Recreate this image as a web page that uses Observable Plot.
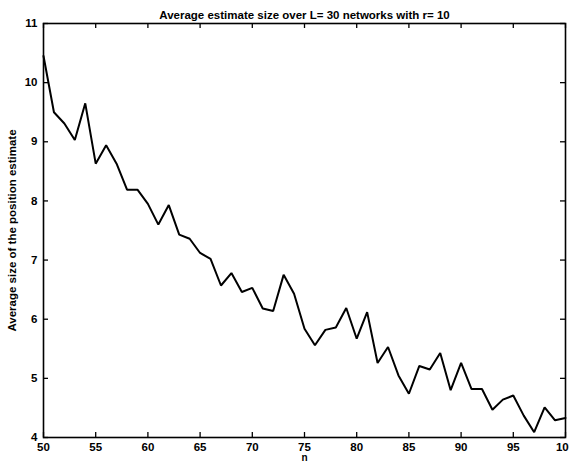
<!DOCTYPE html>
<html>
<head>
<meta charset="utf-8">
<script src="https://cdn.jsdelivr.net/npm/d3@7"></script>
<script src="https://cdn.jsdelivr.net/npm/@observablehq/plot@0.6"></script>
<style>
  html, body { margin: 0; padding: 0; background: #fff; }
  svg { display: block; }
</style>
</head>
<body>
<div id="chart"></div>
<script>
const titleText = "Average estimate size over L= 30 networks with r= 10";
const xLabel = "n";
const yLabel = "Average size of the position estimate";

const nValues = d3.range(50, 101);
const sizeValues = [
  10.45, 9.50, 9.31, 9.03, 9.65, 8.63, 8.94, 8.63, 8.19, 8.19,
  7.95, 7.60, 7.93, 7.43, 7.36, 7.12, 7.02, 6.57, 6.78, 6.46,
  6.53, 6.18, 6.14, 6.75, 6.43, 5.84, 5.56, 5.82, 5.86, 6.19,
  5.67, 6.12, 5.26, 5.53, 5.05, 4.74, 5.21, 5.15, 5.43, 4.80,
  5.26, 4.82, 4.82, 4.47, 4.64, 4.71, 4.37, 4.09, 4.51, 4.29,
  4.33
];
const xTicks = [50, 55, 60, 65, 70, 75, 80, 85, 90, 95, 100];
const yTicks = [4, 5, 6, 7, 8, 9, 10, 11];

const data = nValues.map((n, i) => ({n, v: sizeValues[i]}));

const W = 569, H = 466;
const mL = 43, mR = 4, mT = 23, mB = 29;
const pw = W - mL - mR, ph = H - mT - mB;
const tl = 5;

const chart = Plot.plot({
  width: W,
  height: H,
  marginLeft: mL,
  marginRight: mR,
  marginTop: mT,
  marginBottom: mB,
  style: {fontFamily: "'Liberation Sans', Arial, sans-serif", background: "#fff", color: "#000"},
  x: {domain: [50, 100]},
  y: {domain: [4, 11]},
  marks: [
    Plot.axisX(xTicks, {tickSize: 0, tickPadding: 5, label: null, fontSize: 11.5, fontWeight: "bold", tickFormat: d => String(d)}),
    Plot.axisY(yTicks, {tickSize: 0, tickPadding: 6, label: null, fontSize: 11.5, fontWeight: "bold", tickFormat: d => String(d)}),
    Plot.tickX(xTicks, {x: d => d, insetTop: ph - tl, stroke: "#000", strokeWidth: 1.3}),
    Plot.tickX(xTicks, {x: d => d, insetBottom: ph - tl, stroke: "#000", strokeWidth: 1.3}),
    Plot.tickY(yTicks, {y: d => d, insetRight: pw - tl, stroke: "#000", strokeWidth: 1.3}),
    Plot.tickY(yTicks, {y: d => d, insetLeft: pw - tl, stroke: "#000", strokeWidth: 1.3}),
    Plot.frame({stroke: "#000", strokeWidth: 1.6}),
    Plot.line(data, {x: "n", y: "v", stroke: "#000", strokeWidth: 2, strokeLinejoin: "miter"}),
    Plot.text([titleText], {frameAnchor: "top", dy: -13, text: d => d, fontSize: 11.5, fontWeight: "bold", textAnchor: "middle"}),
    Plot.text([xLabel], {frameAnchor: "bottom", dy: 23, text: d => d, fontSize: 10, fontWeight: "bold", textAnchor: "middle"}),
    Plot.text([yLabel], {frameAnchor: "left", dx: -31, rotate: -90, text: d => d, fontSize: 11.5, fontWeight: "bold", textAnchor: "middle"})
  ]
});
document.getElementById("chart").appendChild(chart);
</script>
</body>
</html>
